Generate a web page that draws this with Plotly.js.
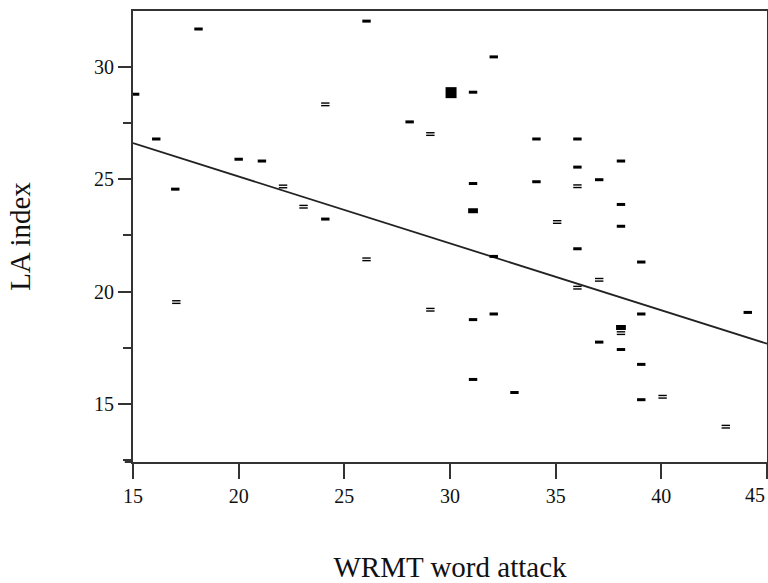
<!DOCTYPE html>
<html>
<head>
<meta charset="utf-8">
<script src="https://cdn.plot.ly/plotly-3.0.1.min.js"></script>
<style>html,body{margin:0;padding:0;background:#fff;}#chart{width:768px;height:583px;}</style>
</head>
<body>
<div id="chart"></div>
<script>
// Single cases (small filled marks)
const singleX = [18.1, 15.1, 16.1, 20.0, 21.1, 17.0, 24.1, 26.05, 32.07, 31.09, 28.09, 34.09, 31.09, 34.09,
                 36.03, 38.09, 36.03, 37.06, 38.09, 38.09, 32.07, 32.07, 31.09, 31.09, 33.05,
                 36.03, 39.05, 44.09, 39.05, 37.06, 38.09, 39.05, 39.05];
const singleY = [31.67, 28.77, 26.78, 25.88, 25.80, 24.55, 23.22, 32.02, 30.43, 28.86, 27.54, 26.78, 24.80, 24.88,
                 26.78, 25.80, 25.53, 24.97, 23.87, 22.90, 21.56, 19.00, 18.75, 16.09, 15.51,
                 21.90, 21.31, 19.07, 19.00, 17.75, 17.42, 16.76, 15.19];
// Cases drawn with the double-line ("=") mark
const pairX = [24.1, 22.1, 23.07, 29.07, 36.03, 35.07, 17.05, 26.05, 29.07, 37.06, 36.03, 38.09, 40.06, 43.05];
const pairY = [28.32, 24.67, 23.77, 27.00, 24.68, 23.09, 19.53, 21.43, 19.19, 20.52, 20.17, 18.15, 15.32, 13.99];
// Cases drawn with a thicker mark
const thickX = [31.09, 38.09];
const thickY = [23.59, 18.40];
// Large mark
const bigX = [30.05];
const bigY = [28.84];
// Fit line
const fitX = [15, 45];
const fitY = [26.60, 17.68];

const xTicks = [15, 20, 25, 30, 35, 40, 45];
const xTickText = ['15', '20', '25', '30', '35', '40', '45'];
const yTicks = [15, 20, 25, 30];
const yTickText = ['15', '20', '25', '30'];

const FONT = 'Liberation Serif, Times New Roman, serif';

const traces = [
  {x: fitX, y: fitY, mode: 'lines', line: {color: '#222', width: 1.8}, hoverinfo: 'skip'},
  {x: singleX, y: singleY, mode: 'markers', marker: {symbol: 'line-ew', size: 6, color: '#000', line: {color: '#000', width: 3}}},
  {x: pairX, y: pairY, mode: 'markers', marker: {symbol: 'line-ew', size: 6, color: '#000', line: {color: '#000', width: 4}}},
  {x: pairX, y: pairY, mode: 'markers', marker: {symbol: 'line-ew', size: 7, color: '#fff', line: {color: '#fff', width: 1.2}}},
  {x: thickX, y: thickY, mode: 'markers', marker: {symbol: 'line-ew', size: 7, color: '#000', line: {color: '#000', width: 5}}},
  {x: bigX, y: bigY, mode: 'markers', marker: {symbol: 'square', size: 11, color: '#000', line: {width: 0}}}
];

// last x tick label is drawn right-aligned so it stays inside the page
const lastIdx = xTicks.length - 1;
const shownXText = xTickText.map((t, i) => i === lastIdx ? '' : t);

const layout = {
  width: 768, height: 583,
  margin: {l: 133, r: 1, t: 11, b: 121},
  paper_bgcolor: '#fff', plot_bgcolor: '#fff',
  showlegend: false,
  font: {family: FONT, color: '#111'},
  xaxis: {
    range: [15, 45], tickvals: xTicks, ticktext: shownXText,
    showgrid: false, zeroline: false,
    showline: true, linecolor: '#333', linewidth: 2, mirror: true,
    ticks: 'outside', ticklen: 15, tickwidth: 2, tickcolor: '#333',
    tickfont: {family: FONT, size: 20, color: '#111'},
    title: {text: 'WRMT word attack', font: {family: FONT, size: 29, color: '#111'}, standoff: 54},
    automargin: false
  },
  yaxis: {
    range: [12.42, 32.47], tickvals: yTicks, ticktext: yTickText,
    showgrid: false, zeroline: false,
    showline: true, linecolor: '#333', linewidth: 2, mirror: true,
    ticks: 'outside', ticklen: 13, tickwidth: 2, tickcolor: '#333',
    minor: {dtick: 2.5, tick0: 0, ticks: 'outside', ticklen: 8, tickwidth: 2, tickcolor: '#333'},
    tickfont: {family: FONT, size: 20, color: '#111'},
    title: {text: 'LA index', font: {family: FONT, size: 29, color: '#111'}, standoff: 55},
    automargin: false
  },
  annotations: [
    {x: xTicks[lastIdx], xref: 'x', y: 0, yref: 'paper', yanchor: 'top', xanchor: 'right',
     yshift: -20, showarrow: false, text: xTickText[lastIdx],
     font: {family: FONT, size: 20, color: '#111'}}
  ],
  shapes: [
    {type: 'line', xref: 'paper', yref: 'paper', x0: 0, x1: 0, y0: 0, y1: -0.018, line: {color: '#333', width: 2}},
    {type: 'line', xref: 'paper', yref: 'paper', x0: -0.013, x1: 0, y0: 0, y1: 0, line: {color: '#333', width: 2}}
  ]
};

Plotly.newPlot('chart', traces, layout, {displayModeBar: false, staticPlot: true});
</script>
</body>
</html>
